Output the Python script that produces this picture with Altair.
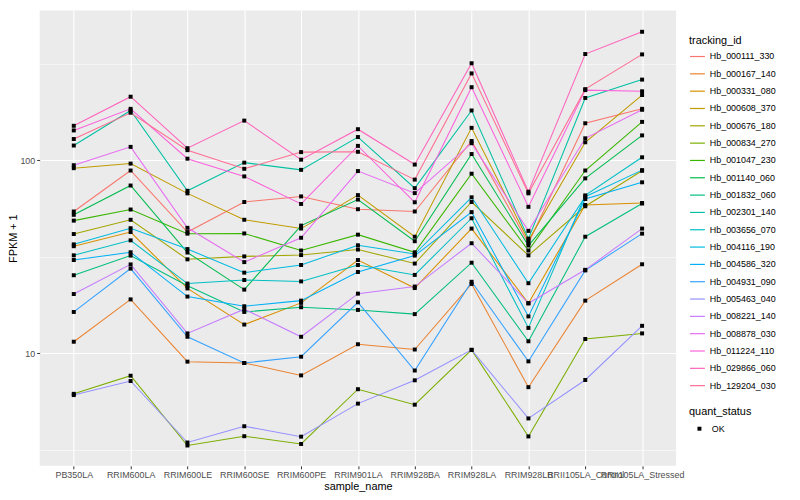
import altair as alt
import pandas as pd

samples = ["PB350LA", "RRIM600LA", "RRIM600LE", "RRIM600SE", "RRIM600PE",
           "RRIM901LA", "RRIM928BA", "RRIM928LA", "RRIM928LB",
           "RRII105LA_Control", "RRII105LA_Stressed"]

tracking_ids = ["Hb_000111_330", "Hb_000167_140", "Hb_000331_080", "Hb_000608_370",
                "Hb_000676_180", "Hb_000834_270", "Hb_001047_230", "Hb_001140_060",
                "Hb_001832_060", "Hb_002301_140", "Hb_003656_070", "Hb_004116_190",
                "Hb_004586_320", "Hb_004931_090", "Hb_005463_040", "Hb_008221_140",
                "Hb_008878_030", "Hb_011224_110", "Hb_029866_060", "Hb_129204_030"]

colors = ["#F8766D", "#EA8331", "#D89000", "#C09B00", "#A3A500", "#7CAE00", "#39B600",
          "#00BB4E", "#00BF7D", "#00C1A3", "#00BFC4", "#00BAE0", "#00B0F6", "#35A2FF",
          "#9590FF", "#C77CFF", "#E76BF3", "#FA62DB", "#FF62BC", "#FF6C91"]

# FPKM + 1 per sample (same order as samples)
hb_000111_330 = [54.3, 88.5, 42.5, 60.8, 65.0, 55.8, 54.3, 125.8, 37.3, 155.4, 184.6]
hb_000167_140 = [11.5, 19.05, 9.07, 8.93, 7.70, 11.16, 10.48, 22.9, 6.69, 18.77, 28.95]
hb_000331_080 = [35.9, 42.5, 21.7, 14.11, 18.27, 30.45, 21.8, 44.3, 18.18, 58.7, 60.1]
hb_000608_370 = [91.0, 96.1, 67.4, 49.2, 44.3, 66.0, 40.2, 147.2, 38.4, 123.9, 217.6]
hb_000676_180 = [41.5, 49.2, 30.7, 31.8, 32.3, 34.5, 29.2, 60.8, 32.2, 57.8, 88.2]
hb_000834_270 = [6.18, 7.67, 3.34, 3.73, 3.40, 6.53, 5.43, 10.44, 3.72, 11.88, 12.70]
hb_001047_230 = [48.7, 55.6, 41.7, 41.8, 34.1, 41.2, 33.4, 85.2, 34.1, 88.5, 158.0]
hb_001140_060 = [52.2, 74.0, 33.3, 21.4, 45.9, 62.6, 38.1, 107.7, 36.2, 80.6, 134.5]
hb_001832_060 = [25.4, 32.1, 22.4, 16.4, 17.35, 16.8, 15.98, 29.5, 11.56, 40.2, 59.7]
hb_002301_140 = [119.2, 181.0, 69.5, 97.2, 89.2, 131.9, 71.7, 181.0, 39.3, 210.1, 261.5]
hb_003656_070 = [32.2, 38.5, 23.0, 24.0, 23.6, 28.7, 25.5, 50.1, 13.56, 65.8, 103.6]
hb_004116_190 = [36.7, 44.5, 34.7, 26.2, 28.7, 36.3, 32.7, 64.3, 23.1, 64.8, 88.9]
hb_004586_320 = [30.45, 33.4, 19.7, 17.55, 18.77, 26.4, 32.1, 53.9, 15.55, 63.0, 76.9]
hb_004931_090 = [16.4, 27.5, 12.2, 8.93, 9.62, 18.4, 8.16, 23.5, 9.10, 26.9, 41.7]
hb_005463_040 = [6.09, 7.20, 3.46, 4.20, 3.71, 5.50, 7.26, 10.44, 4.61, 7.29, 13.9]
hb_008221_140 = [20.3, 28.9, 12.7, 16.95, 12.2, 20.4, 22.2, 37.2, 18.18, 27.1, 44.3]
hb_008878_030 = [94.3, 117.3, 44.7, 29.7, 39.7, 87.9, 67.6, 122.5, 43.1, 129.9, 182.5]
hb_011224_110 = [142.7, 184.6, 101.9, 82.5, 59.4, 118.7, 60.6, 238.9, 57.4, 230.7, 227.5]
hb_029866_060 = [150.8, 213.3, 115.5, 160.4, 100.7, 144.8, 95.0, 317.7, 68.7, 354.7, 462.4]
hb_129204_030 = [128.8, 176.2, 112.8, 90.3, 110.2, 110.6, 79.4, 281.6, 67.4, 233.4, 353.1]

series = [hb_000111_330, hb_000167_140, hb_000331_080, hb_000608_370, hb_000676_180,
          hb_000834_270, hb_001047_230, hb_001140_060, hb_001832_060, hb_002301_140,
          hb_003656_070, hb_004116_190, hb_004586_320, hb_004931_090, hb_005463_040,
          hb_008221_140, hb_008878_030, hb_011224_110, hb_029866_060, hb_129204_030]

y_ticks = [3.162, 10, 31.62, 100, 316.2]

rows = []
for tid, vals in zip(tracking_ids, series):
    for i, (s, v) in enumerate(zip(samples, vals)):
        rows.append({"tracking_id": tid, "sample_name": s, "idx": i,
                     "fpkm": v, "quant_status": "OK"})
df = pd.DataFrame(rows)

major = "datum.value == 10 || datum.value == 100"

x_enc = alt.X("sample_name:N", sort=samples,
              scale=alt.Scale(type="point", padding=0.6),
              axis=alt.Axis(title="sample_name", labelAngle=0, grid=True,
                            gridColor="white", gridWidth=1.1, domain=False,
                            tickColor="#333333", tickSize=3, labelPadding=2,
                            labelColor="#4D4D4D", labelFontSize=9,
                            titleFontSize=11, titleFontWeight="normal",
                            titleColor="black", titlePadding=1))
y_enc = alt.Y("fpkm:Q",
              scale=alt.Scale(type="log", domain=[2.62, 596], nice=False),
              axis=alt.Axis(title="FPKM + 1", values=y_ticks, grid=True,
                            gridColor="white",
                            gridWidth={"condition": {"test": major, "value": 1.1}, "value": 0.55},
                            tickColor={"condition": {"test": major, "value": "#333333"}, "value": "transparent"},
                            labelExpr=f"({major}) ? format(datum.value, 'd') : ''",
                            domain=False, tickSize=3, labelPadding=2,
                            labelColor="#4D4D4D", labelFontSize=9,
                            titleFontSize=11, titleFontWeight="normal",
                            titleColor="black", titlePadding=1))

base = alt.Chart(df)

lines = base.mark_line(strokeWidth=1.05).encode(
    x=x_enc, y=y_enc,
    order=alt.Order("idx:Q"),
    color=alt.Color("tracking_id:N",
                    scale=alt.Scale(domain=tracking_ids, range=colors),
                    legend=alt.Legend(title="tracking_id", orient="none",
                                      legendX=656, legendY=25,
                                      symbolType="stroke", symbolSize=225,
                                      symbolStrokeWidth=1.2, rowPadding=3.5,
                                      labelOffset=4, titlePadding=2)),
    detail="tracking_id:N",
)

points = base.mark_point(shape="square", filled=True, size=16, opacity=1,
                         color="black").encode(
    x=x_enc, y=y_enc,
    shape=alt.Shape("quant_status:N",
                    scale=alt.Scale(domain=["OK"], range=["square"]),
                    legend=alt.Legend(title="quant_status", orient="none",
                                      legendX=656, legendY=400,
                                      symbolSize=16, symbolFillColor="black",
                                      symbolStrokeColor="black",
                                      symbolOffset=6, labelOffset=8,
                                      titlePadding=7)),
)

chart = alt.layer(lines, points).properties(
    width=643, height=460,
    padding={"left": 32, "top": 0, "right": 117, "bottom": 32},
    autosize=alt.AutoSizeParams(type="none"),
).configure(font="Liberation Sans").configure_view(
    fill="#EBEBEB", strokeWidth=0
).configure_legend(
    titleFontSize=11, titleFontWeight="normal", titleColor="black",
    labelFontSize=9, labelColor="black", padding=0
)

chart.save("out.html", embed_options={"renderer": "svg", "actions": False})
